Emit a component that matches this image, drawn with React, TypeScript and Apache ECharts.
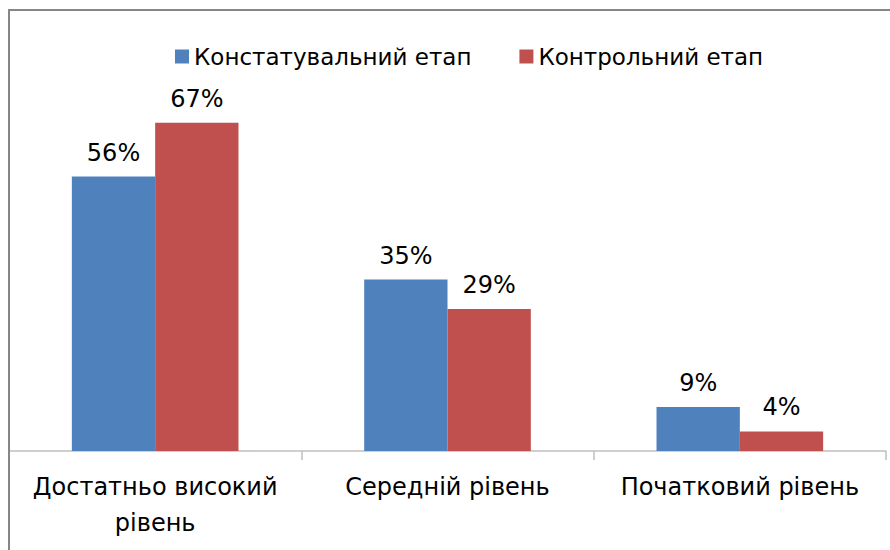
import React, { useEffect, useRef } from "react";
import * as echarts from "echarts";

const categories = ["Достатньо високий рівень", "Середній рівень", "Початковий рівень"];
const seriesNames = ["Констатувальний етап", "Контрольний етап"];
const stageA = [56, 35, 9];
const stageB = [67, 29, 4];
const colors = ["#4F81BD", "#C0504D"];

const FONT = "DejaVu Sans";

export default function App() {
  const ref = useRef<HTMLDivElement>(null);
  useEffect(() => {
    if (!ref.current) return;
    const chart = echarts.init(ref.current, null, { renderer: "svg" });
    const mk = (name: string, data: number[], color: string) => ({
      name,
      type: "bar",
      data,
      barGap: "0%",
      barCategoryGap: "43%",
      itemStyle: { color },
      label: {
        show: true,
        position: "top",
        distance: 12,
        formatter: "{c}%",
        color: "#000",
        fontSize: 24,
        fontFamily: FONT,
      },
    });
    chart.setOption({
      animation: false,
      backgroundColor: "#fff",
      textStyle: { fontFamily: FONT },
      graphic: [
        {
          type: "rect",
          shape: { x: 9, y: 10, width: 920, height: 600 },
          style: { fill: "none", stroke: "#868686", lineWidth: 2 },
          z: 100,
        },
      ],
      legend: {
        left: 170,
        top: 40,
        itemWidth: 14,
        itemHeight: 14,
        itemGap: 48,
        icon: "rect",
        textStyle: { fontSize: 23, fontFamily: FONT, color: "#000" },
        data: seriesNames,
      },
      grid: { left: 9, right: 4, top: 59, bottom: 99, outerBoundsMode: "none", containLabel: false },
      xAxis: {
        type: "category",
        data: categories,
        axisLine: { lineStyle: { color: "#bfbfbf", width: 1.5 } },
        axisTick: { show: true, length: 9, lineStyle: { color: "#bfbfbf", width: 1.5 } },
        axisLabel: {
          fontSize: 24,
          fontFamily: FONT,
          color: "#000",
          margin: 18,
          lineHeight: 36,
          interval: 0,
          formatter: (v: string) => (v.length > 20 ? v.replace(/ (\S+)$/, "\n$1") : v),
        },
      },
      yAxis: {
        type: "value",
        min: 0,
        max: 80,
        show: false,
        splitLine: { show: false },
      },
      series: [mk(seriesNames[0], stageA, colors[0]), mk(seriesNames[1], stageB, colors[1])],
    });
    return () => chart.dispose();
  }, []);
  return (
    <div
      ref={ref}
      style={{ position: "fixed", left: 0, top: 0, width: 890, height: 550, background: "#fff" }}
    />
  );
}
